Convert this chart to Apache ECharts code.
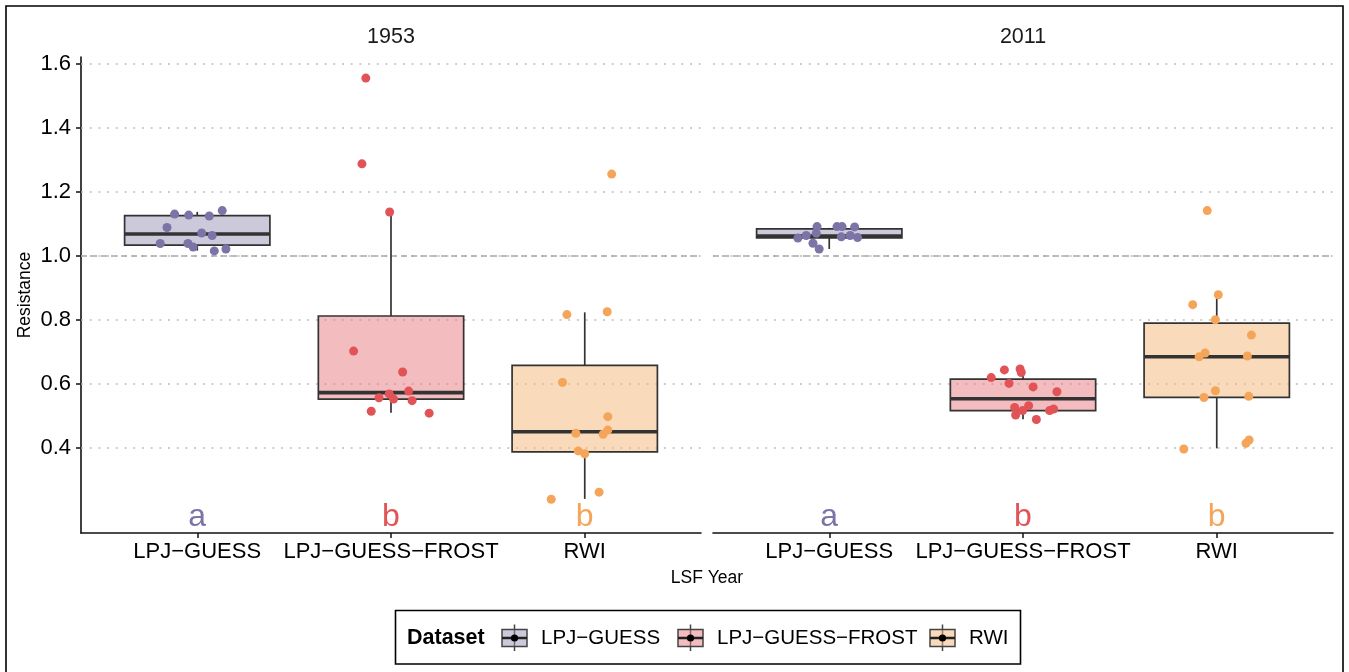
<!DOCTYPE html>
<html>
<head>
<meta charset="utf-8">
<title>Resistance by dataset</title>
<script src="https://cdn.jsdelivr.net/npm/echarts@6/dist/echarts.min.js"></script>
<style>
  html, body { margin: 0; padding: 0; background: #fff; }
  #chart { width: 1349px; height: 672px; }
</style>
</head>
<body>
<div id="chart"></div>
<script>
const categories = ['LPJ−GUESS', 'LPJ−GUESS−FROST', 'RWI']
const years = ['1953', '2011']
const yTicks = [0.4, 0.6, 0.8, 1.0, 1.2, 1.4, 1.6]
const refLine = 1.0
const letters = ['a', 'b', 'b']
const letterY = 0.185

// box stats: [lower whisker, Q1, median, Q3, upper whisker]
const box1953 = [
  [1.017, 1.034, 1.069, 1.126, 1.138],
  [0.510, 0.553, 0.573, 0.8125, 1.1375],
  [0.241, 0.388, 0.451, 0.658, 0.824]
]
const box2011 = [
  [1.022, 1.057, 1.0625, 1.085, 1.088],
  [0.490, 0.517, 0.554, 0.615, 0.644],
  [0.399, 0.558, 0.685, 0.790, 0.868]
]

// jittered points: [x position, resistance]
const pts1953Lpj = [[0.883, 1.131], [0.956, 1.128], [1.062, 1.125], [1.129, 1.142], [0.844, 1.089], [1.023, 1.072],
  [1.077, 1.064], [0.809, 1.039], [0.952, 1.039], [0.979, 1.028], [1.088, 1.016], [1.148, 1.022]]
const pts1953Frost = [[1.870, 1.556], [1.850, 1.288], [1.993, 1.1375], [1.807, 0.703], [2.060, 0.6375], [2.091, 0.578],
  [1.991, 0.569], [1.938, 0.557], [2.013, 0.553], [2.109, 0.548], [1.898, 0.515], [2.197, 0.509]]
const pts1953Rwi = [[2.908, 0.817], [3.116, 0.826], [2.885, 0.605], [3.119, 0.498], [3.119, 0.456], [3.095, 0.443],
  [2.954, 0.446], [2.966, 0.391], [3.000, 0.382], [3.074, 0.262], [2.827, 0.240], [3.139, 1.256]]
const pts2011Lpj = [[0.937, 1.092], [1.040, 1.092], [1.066, 1.092], [1.131, 1.091], [0.933, 1.071], [0.881, 1.064],
  [0.838, 1.056], [1.062, 1.060], [1.108, 1.064], [1.146, 1.058], [0.916, 1.040], [0.948, 1.022]]
const pts2011Frost = [[1.836, 0.620], [1.904, 0.644], [1.985, 0.647], [1.991, 0.636], [1.928, 0.602], [2.052, 0.591],
  [2.175, 0.576], [2.029, 0.532], [1.957, 0.527], [1.998, 0.517], [1.962, 0.503], [2.158, 0.522], [2.137, 0.517], [2.069, 0.489]]
const pts2011Rwi = [[2.951, 1.142], [3.008, 0.879], [2.876, 0.848], [2.993, 0.801], [3.179, 0.753], [2.940, 0.697],
  [2.909, 0.685], [3.158, 0.6875], [2.993, 0.579], [2.934, 0.558], [3.165, 0.5615], [3.167, 0.425], [3.151, 0.415], [2.830, 0.397]]

const FONT = '"Liberation Sans", Arial, sans-serif'
const pointColors = ['#7c74a7', '#e15357', '#f5a55a']
const boxFills = ['rgba(153,147,181,0.5)', 'rgba(231,121,125,0.5)', 'rgba(243,181,119,0.5)']
const boxHalf = 0.375

const myChart = echarts.init(document.getElementById('chart'))

const panels = [
  { boxes: box1953, pts: [pts1953Lpj, pts1953Frost, pts1953Rwi] },
  { boxes: box2011, pts: [pts2011Lpj, pts2011Frost, pts2011Rwi] }
]

function boxRenderer(fill) {
  return function (params, api) {
    const x = api.value(0)
    const lo = api.coord([x, api.value(1)])
    const q1 = api.coord([x, api.value(2)])
    const md = api.coord([x, api.value(3)])
    const q3 = api.coord([x, api.value(4)])
    const hi = api.coord([x, api.value(5)])
    const l = api.coord([x - boxHalf, api.value(3)])[0]
    const r = api.coord([x + boxHalf, api.value(3)])[0]
    const stroke = '#333'
    return {
      type: 'group',
      children: [
        { type: 'line', shape: { x1: lo[0], y1: lo[1], x2: q1[0], y2: q1[1] }, style: { stroke: stroke, lineWidth: 1.7 } },
        { type: 'line', shape: { x1: q3[0], y1: q3[1], x2: hi[0], y2: hi[1] }, style: { stroke: stroke, lineWidth: 1.7 } },
        { type: 'rect', shape: { x: l, y: q3[1], width: r - l, height: q1[1] - q3[1] }, style: { fill: fill, stroke: stroke, lineWidth: 1.7 } },
        { type: 'line', shape: { x1: l, y1: md[1], x2: r, y2: md[1] }, style: { stroke: stroke, lineWidth: 3.6 } }
      ]
    }
  }
}

const series = []
panels.forEach(function (panel, g) {
  panel.boxes.forEach(function (b, d) {
    series.push({
      type: 'custom',
      xAxisIndex: g,
      yAxisIndex: g,
      z: 2,
      silent: true,
      encode: { x: 0, y: [1, 2, 3, 4, 5] },
      data: [[d + 1].concat(b)],
      renderItem: boxRenderer(boxFills[d])
    })
  })
  panel.pts.forEach(function (p, d) {
    const s = {
      type: 'scatter',
      xAxisIndex: g,
      yAxisIndex: g,
      z: 3,
      symbolSize: 9,
      silent: true,
      itemStyle: { color: pointColors[d], opacity: 1 },
      data: p
    }
    if (d === 0) {
      s.markLine = {
        silent: true,
        z: 1,
        symbol: ['none', 'none'],
        label: { show: false },
        lineStyle: { color: '#bdbdbd', type: [2, 6.7], width: 1.6 },
        emphasis: { disabled: true },
        data: yTicks.map(function (v) { return { yAxis: v } }).concat([
          { yAxis: refLine, lineStyle: { color: '#a8a8a8', type: [6, 4], width: 1.6 } }
        ])
      }
    }
    series.push(s)
  })
  series.push({
    type: 'custom',
    xAxisIndex: g,
    yAxisIndex: g,
    z: 3,
    silent: true,
    data: letters.map(function (t, i) { return [i + 1, letterY] }),
    renderItem: function (params, api) {
      const p = api.coord([api.value(0), api.value(1)])
      return {
        type: 'text',
        x: p[0],
        y: p[1],
        style: {
          text: letters[params.dataIndex],
          fill: pointColors[params.dataIndex],
          fontSize: 32,
          fontFamily: FONT,
          align: 'center',
          verticalAlign: 'middle'
        }
      }
    }
  })
})

const gridDefs = [
  { left: 81, top: 57, width: 620, height: 476 },
  { left: 713, top: 57, width: 620, height: 476 }
]

const xAxes = gridDefs.map(function (gd, g) {
  return {
    type: 'value',
    gridIndex: g,
    min: 0.4,
    max: 3.6,
    axisLine: { show: true, lineStyle: { color: '#111', width: 1.6 } },
    axisTick: { show: true, customValues: [1, 2, 3], length: 5, lineStyle: { color: '#111', width: 1.5 } },
    axisLabel: {
      customValues: [1, 2, 3],
      formatter: function (v) { return categories[Math.round(v) - 1] },
      color: '#000',
      fontSize: 22,
      fontFamily: FONT,
      margin: 8
    },
    splitLine: { show: false }
  }
})

const yAxes = gridDefs.map(function (gd, g) {
  return {
    type: 'value',
    gridIndex: g,
    min: 0.1344,
    max: 1.622,
    show: g === 0,
    axisLine: { show: true, lineStyle: { color: '#111', width: 1.6 } },
    axisTick: { show: true, customValues: yTicks, length: 5, lineStyle: { color: '#111', width: 1.5 } },
    axisLabel: {
      customValues: yTicks,
      formatter: function (v) { return v.toFixed(1) },
      color: '#000',
      fontSize: 22,
      fontFamily: FONT,
      margin: 10
    },
    splitLine: { show: false }
  }
})

function legendKey(x0, fill) {
  const cx = x0 + 12.5
  return [
    { type: 'line', shape: { x1: cx, y1: 624.5, x2: cx, y2: 651 }, style: { stroke: '#444', lineWidth: 1.5 } },
    { type: 'rect', shape: { x: x0, y: 629.5, width: 25, height: 17 }, style: { fill: fill, stroke: '#444', lineWidth: 1.5 } },
    { type: 'line', shape: { x1: x0, y1: 638, x2: x0 + 25, y2: 638 }, style: { stroke: '#222', lineWidth: 2.5 } },
    { type: 'circle', shape: { cx: cx, cy: 638, r: 3.6 }, style: { fill: '#000' } }
  ]
}

const keyX = [502, 678, 930]
const keyTextX = [541, 717, 969]
let legendParts = [
  { type: 'rect', shape: { x: 395.5, y: 610.5, width: 625, height: 53.5 }, style: { fill: '#fff', stroke: '#000', lineWidth: 1.6 } },
  { type: 'text', x: 407, y: 638, style: { text: 'Dataset', fontSize: 21.5, fontWeight: 'bold', fontFamily: FONT, fill: '#000', align: 'left', verticalAlign: 'middle' } }
]
categories.forEach(function (c, i) {
  legendParts = legendParts.concat(legendKey(keyX[i], boxFills[i]))
  legendParts.push({ type: 'text', x: keyTextX[i], y: 638, style: { text: c, fontSize: 20.5, fontFamily: FONT, fill: '#000', align: 'left', verticalAlign: 'middle' } })
})

const graphics = [
  { type: 'rect', silent: true, shape: { x: 6, y: 6, width: 1337, height: 720 }, style: { fill: 'none', stroke: '#000', lineWidth: 1.6 }, z: 0 },
  { type: 'text', x: 391, y: 37, style: { text: years[0], fontSize: 21.5, fontFamily: FONT, fill: '#1a1a1a', align: 'center', verticalAlign: 'middle' } },
  { type: 'text', x: 1023, y: 37, style: { text: years[1], fontSize: 21.5, fontFamily: FONT, fill: '#1a1a1a', align: 'center', verticalAlign: 'middle' } },
  { type: 'text', x: 707, y: 578, style: { text: 'LSF Year', fontSize: 17.5, fontFamily: FONT, fill: '#000', align: 'center', verticalAlign: 'middle' } },
  { type: 'text', x: 25, y: 295, rotation: Math.PI / 2, style: { text: 'Resistance', fontSize: 17.5, fontFamily: FONT, fill: '#000', align: 'center', verticalAlign: 'middle' } },
  { type: 'group', children: legendParts }
]

const option = {
  backgroundColor: '#fff',
  animation: false,
  grid: gridDefs,
  xAxis: xAxes,
  yAxis: yAxes,
  graphic: graphics,
  series: series
}

option && myChart.setOption(option)
</script>
</body>
</html>
